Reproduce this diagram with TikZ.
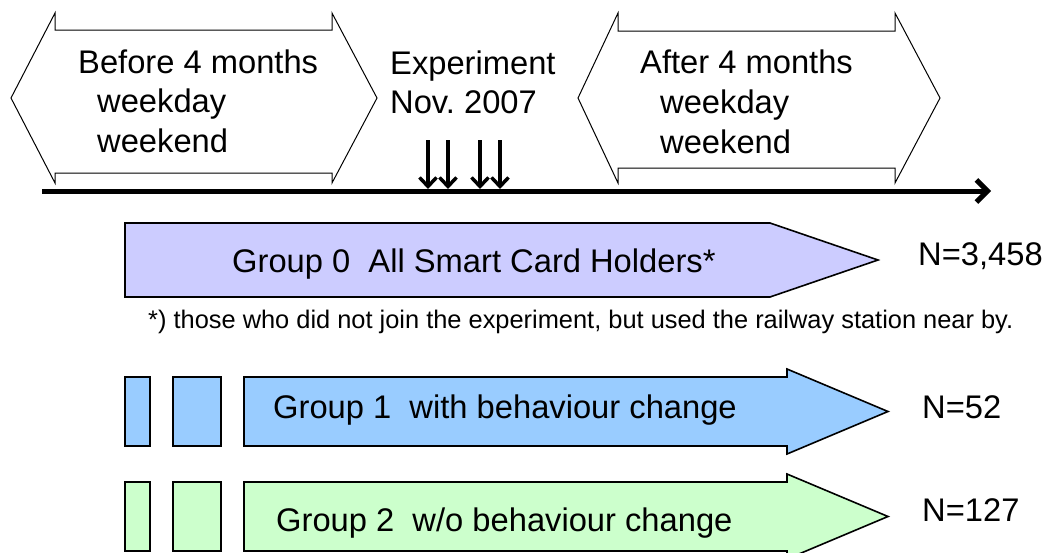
\documentclass[tikz,border=0pt]{standalone}
\usepackage{fontspec}
\setmainfont{Liberation Sans}
\usetikzlibrary{arrows.meta}
\definecolor{grpzero}{HTML}{CCCCFF}
\definecolor{grpone}{HTML}{99CCFF}
\definecolor{grptwo}{HTML}{CCFFCC}

\begin{document}
\begin{tikzpicture}[x=1pt, y=-1pt,
    big/.style={font=\fontsize{32.7}{39}\selectfont, inner sep=0pt, anchor=base west},
    small/.style={font=\fontsize{25.4}{30}\selectfont, inner sep=0pt, anchor=base west},
    period/.style={draw=black, line width=1pt, fill=white},
    grp/.style={draw=black, line width=1.6pt}]
    \useasboundingbox (0,0) rectangle (1049,552);
    % before / after periods
    \draw[period] (11,98) -- (55,13) -- (55,30) -- (332,30) -- (332,13) -- (377,98)
        -- (332,183) -- (332,173) -- (55,173) -- (55,183) -- cycle;
    \draw[period] (578,98) -- (618,13) -- (618,31) -- (895,31) -- (895,13) -- (940,98)
        -- (895,183) -- (895,168) -- (618,168) -- (618,183) -- cycle;
    \node[big] (before) at (78,73) {Before 4 months};
    \node[big] (beforewd) at (97,112) {weekday};
    \node[big] (beforewe) at (97,152) {weekend};
    \node[big] (after) at (640,73) {After 4 months};
    \node[big] (afterwd) at (660,113) {weekday};
    \node[big] (afterwe) at (660,153) {weekend};
    \node[big] (expt) at (390,74) {Experiment};
    \node[big] (exptdate) at (390,113) {Nov.\ 2007};
    % time axis
    \coordinate (tstart) at (42,191);
    \coordinate (tend) at (991,191);
    \draw[line width=5pt, -{Straight Barb[length=11pt, width=22pt]}] (tstart) -- (tend);
    \foreach \x [count=\i] in {428,448,480,500}{
        \coordinate (dtop\i) at (\x,140);
        \coordinate (dbot\i) at (\x,189);
        \draw[line width=3.5pt, -{Straight Barb[length=9pt, width=17pt]}] (dtop\i) -- (dbot\i);
    }
    % group 0
    \draw[grp, fill=grpzero] (125,223) -- (770,223) -- (878,260) -- (770,297) -- (125,297) -- cycle;
    \node[big] (grp0) at (232,272) {Group 0\ \ All Smart Card Holders*};
    \node[big] (n0) at (918,265) {N=3,458};
    \node[small] (note) at (148,328) {*) those who did not join the experiment, but used the railway station near by.};
    % groups 1 and 2
    \foreach \t/\col in {377/grpone, 482/grptwo}{
        \draw[grp, fill=\col] (125,\t) rectangle (150,\t+69);
        \draw[grp, fill=\col] (173,\t) rectangle (221,\t+69);
        \draw[grp, fill=\col] (244,\t) -- (787,\t) -- (787,\t-8) -- (888,\t+34.5)
            -- (787,\t+77) -- (787,\t+69) -- (244,\t+69) -- cycle;
    }
    \node[big] (grp1) at (273,418) {Group 1\ \ with behaviour change};
    \node[big] (n1) at (922,418) {N=52};
    \node[big] (grp2) at (276,531) {Group 2\ \ w/o behaviour change};
    \node[big] (n2) at (922,521) {N=127};
\end{tikzpicture}
\end{document}
